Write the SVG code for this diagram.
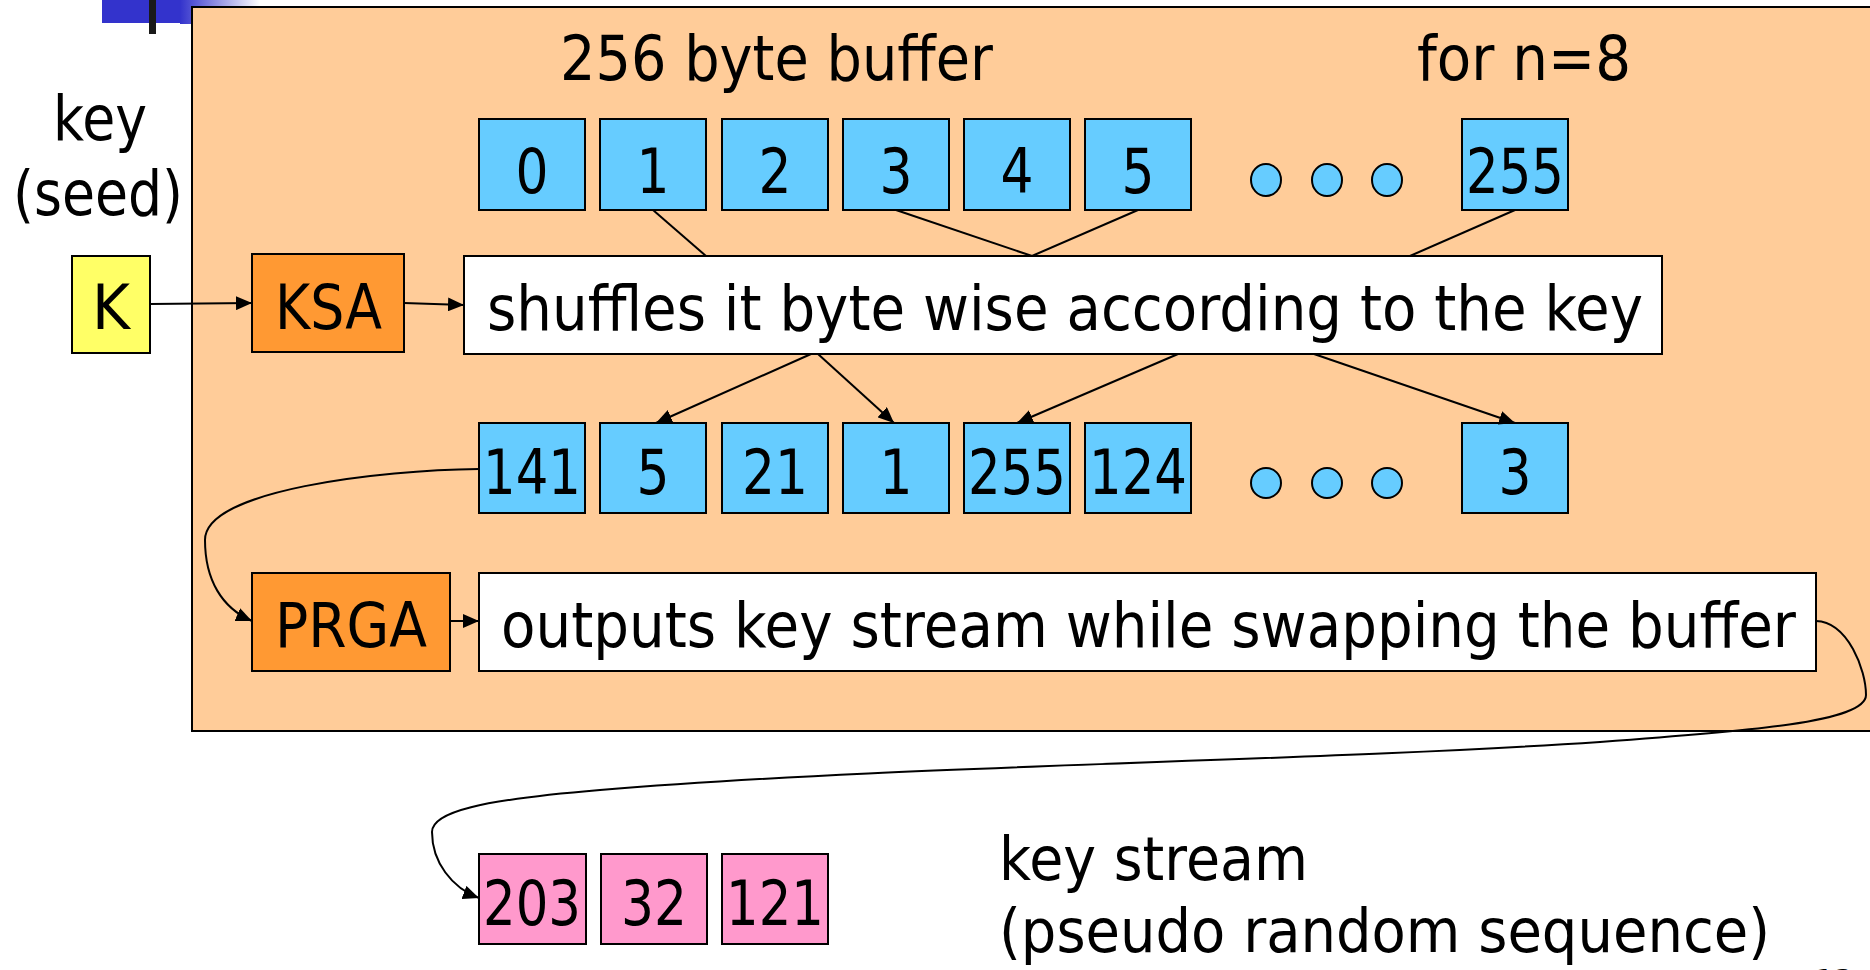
<svg xmlns="http://www.w3.org/2000/svg" width="1870" height="970" viewBox="0 0 1870 970">
  <style>
    .t { font-family: "DejaVu Sans", "Liberation Sans", sans-serif; fill: #000; }
    .big { font-size: 62px; }
    .num { font-size: 62px; text-anchor: middle; }
    .box { stroke: #000; stroke-width: 2; }
    .blue { fill: #66CCFF; }
    .pink { fill: #FF99CC; }
    .orange { fill: #FF9933; }
    .yellow { fill: #FFFF66; }
    .white { fill: #FFFFFF; }
    .line { fill: none; stroke: #000; stroke-width: 2; }
    .arrow { fill: none; stroke: #000; stroke-width: 2; marker-end: url(#head); }
  </style>
  <defs>
    <marker id="head" markerUnits="userSpaceOnUse" markerWidth="18" markerHeight="14" refX="16" refY="7" orient="auto">
      <path d="M0,0 L16,7 L0,14 Z" fill="#000"/>
    </marker>
    <linearGradient id="fade" x1="0" y1="0" x2="1" y2="0">
      <stop offset="0" stop-color="#3333CC"/>
      <stop offset="1" stop-color="#FFFFFF"/>
    </linearGradient>
  </defs>

  <rect width="1870" height="970" fill="#FFFFFF"/>

  <!-- slide corner ornament -->
  <g id="ornament">
    <rect x="102" y="0" width="80" height="23" fill="#3333CC"/>
    <rect x="180" y="0" width="80" height="24" fill="url(#fade)"/>
    <rect x="149" y="0" width="7" height="34" fill="#1a1a1a"/>
  </g>

  <!-- RC4 panel -->
  <g id="panel">
    <rect x="192" y="7" width="1690" height="724" fill="#FFCC99" stroke="#000" stroke-width="2"/>
    <text class="t big" x="560" y="80" textLength="433" lengthAdjust="spacingAndGlyphs">256 byte buffer</text>
    <text class="t big" x="1417" y="80" textLength="214" lengthAdjust="spacingAndGlyphs">for n=8</text>
  </g>

  <g id="seed-label">
    <text class="t big" x="53" y="140" textLength="94" lengthAdjust="spacingAndGlyphs">key</text>
    <text class="t big" x="13" y="215" textLength="170" lengthAdjust="spacingAndGlyphs">(seed)</text>
  </g>

  <g id="key-K">
    <rect class="box yellow" x="72" y="256" width="78" height="97"/>
    <text class="t num" x="111" y="329" textLength="38" lengthAdjust="spacingAndGlyphs">K</text>
  </g>

  <g id="ksa">
    <rect class="box orange" x="252" y="254" width="152" height="98"/>
    <text class="t big" x="275" y="329" textLength="107" lengthAdjust="spacingAndGlyphs">KSA</text>
  </g>

  <g id="shuffle">
    <rect class="box white" x="464" y="256" width="1198" height="98"/>
    <text class="t big" x="487" y="330" textLength="1156" lengthAdjust="spacingAndGlyphs">shuffles it byte wise according to the key</text>
  </g>

  <!-- initial buffer S[0..255] -->
  <g id="buffer-initial">
    <rect class="box blue" x="479" y="119" width="106" height="91"/>
    <text class="t num" x="532" y="193" textLength="33" lengthAdjust="spacingAndGlyphs">0</text>
    <rect class="box blue" x="600" y="119" width="106" height="91"/>
    <text class="t num" x="653" y="193" textLength="33" lengthAdjust="spacingAndGlyphs">1</text>
    <rect class="box blue" x="722" y="119" width="106" height="91"/>
    <text class="t num" x="775" y="193" textLength="33" lengthAdjust="spacingAndGlyphs">2</text>
    <rect class="box blue" x="843" y="119" width="106" height="91"/>
    <text class="t num" x="896" y="193" textLength="33" lengthAdjust="spacingAndGlyphs">3</text>
    <rect class="box blue" x="964" y="119" width="106" height="91"/>
    <text class="t num" x="1017" y="193" textLength="33" lengthAdjust="spacingAndGlyphs">4</text>
    <rect class="box blue" x="1085" y="119" width="106" height="91"/>
    <text class="t num" x="1138" y="193" textLength="33" lengthAdjust="spacingAndGlyphs">5</text>
    <ellipse class="box blue" cx="1266" cy="180" rx="15" ry="16"/>
    <ellipse class="box blue" cx="1327" cy="180" rx="15" ry="16"/>
    <ellipse class="box blue" cx="1387" cy="180" rx="15" ry="16"/>
    <rect class="box blue" x="1462" y="119" width="106" height="91"/>
    <text class="t num" x="1515" y="193" textLength="98" lengthAdjust="spacingAndGlyphs">255</text>
  </g>

  <!-- shuffled buffer -->
  <g id="buffer-shuffled">
    <rect class="box blue" x="479" y="423" width="106" height="90"/>
    <text class="t num" x="532" y="494" textLength="98" lengthAdjust="spacingAndGlyphs">141</text>
    <rect class="box blue" x="600" y="423" width="106" height="90"/>
    <text class="t num" x="653" y="494" textLength="33" lengthAdjust="spacingAndGlyphs">5</text>
    <rect class="box blue" x="722" y="423" width="106" height="90"/>
    <text class="t num" x="775" y="494" textLength="66" lengthAdjust="spacingAndGlyphs">21</text>
    <rect class="box blue" x="843" y="423" width="106" height="90"/>
    <text class="t num" x="896" y="494" textLength="33" lengthAdjust="spacingAndGlyphs">1</text>
    <rect class="box blue" x="964" y="423" width="106" height="90"/>
    <text class="t num" x="1017" y="494" textLength="98" lengthAdjust="spacingAndGlyphs">255</text>
    <rect class="box blue" x="1085" y="423" width="106" height="90"/>
    <text class="t num" x="1138" y="494" textLength="98" lengthAdjust="spacingAndGlyphs">124</text>
    <circle class="box blue" cx="1266" cy="483" r="15"/>
    <circle class="box blue" cx="1327" cy="483" r="15"/>
    <circle class="box blue" cx="1387" cy="483" r="15"/>
    <rect class="box blue" x="1462" y="423" width="106" height="90"/>
    <text class="t num" x="1515" y="494" textLength="33" lengthAdjust="spacingAndGlyphs">3</text>
  </g>

  <g id="prga">
    <rect class="box orange" x="252" y="573" width="198" height="98"/>
    <text class="t big" x="275" y="647" textLength="152" lengthAdjust="spacingAndGlyphs">PRGA</text>
  </g>

  <g id="outputs">
    <rect class="box white" x="479" y="573" width="1337" height="98"/>
    <text class="t big" x="501" y="647" textLength="1295" lengthAdjust="spacingAndGlyphs">outputs key stream while swapping the buffer</text>
  </g>

  <!-- generated key stream bytes -->
  <g id="keystream">
    <rect class="box pink" x="479" y="854" width="107" height="90"/>
    <text class="t num" x="532" y="925" textLength="98" lengthAdjust="spacingAndGlyphs">203</text>
    <rect class="box pink" x="601" y="854" width="106" height="90"/>
    <text class="t num" x="654" y="925" textLength="66" lengthAdjust="spacingAndGlyphs">32</text>
    <rect class="box pink" x="722" y="854" width="106" height="90"/>
    <text class="t num" x="775" y="925" textLength="98" lengthAdjust="spacingAndGlyphs">121</text>
  </g>

  <g id="keystream-label">
    <text class="t" font-size="60" x="999" y="880" textLength="309" lengthAdjust="spacingAndGlyphs">key stream</text>
    <text class="t" font-size="60" x="999" y="952" textLength="771" lengthAdjust="spacingAndGlyphs">(pseudo random sequence)</text>
  </g>

  <g id="page-number">
    <text class="t" font-size="30" x="1815" y="991">13</text>
  </g>

  <g id="connectors">
    <!-- key into the scheduling stages -->
    <line class="arrow" x1="150" y1="304" x2="252" y2="303"/>
    <line class="arrow" x1="404" y1="303" x2="464" y2="305"/>
    <!-- initial buffer feeds the shuffle -->
    <line class="line" x1="653" y1="210" x2="706" y2="256"/>
    <line class="line" x1="896" y1="210" x2="1032" y2="256"/>
    <line class="line" x1="1138" y1="210" x2="1032" y2="256"/>
    <line class="line" x1="1515" y1="210" x2="1410" y2="256"/>
    <!-- shuffle writes into the permuted buffer -->
    <line class="arrow" x1="811" y1="354" x2="656" y2="423"/>
    <line class="arrow" x1="818" y1="354" x2="894" y2="423"/>
    <line class="arrow" x1="1178" y1="354" x2="1017" y2="423"/>
    <line class="arrow" x1="1314" y1="354" x2="1515" y2="423"/>
    <!-- permuted buffer into PRGA -->
    <path class="arrow" d="M479,469 C380,470 205,490 205,540 C205,580 222,608 252,621"/>
    <line class="arrow" x1="450" y1="621" x2="479" y2="621"/>
    <!-- output bytes -->
    <path class="arrow" d="M1816,621 C1848,622 1866,670 1866,695 C1866,722 1750,731 1600,742 C1300,762 900,765 600,790 C480,800 432,812 432,832 C432,862 452,888 479,898"/>
  </g>
</svg>
